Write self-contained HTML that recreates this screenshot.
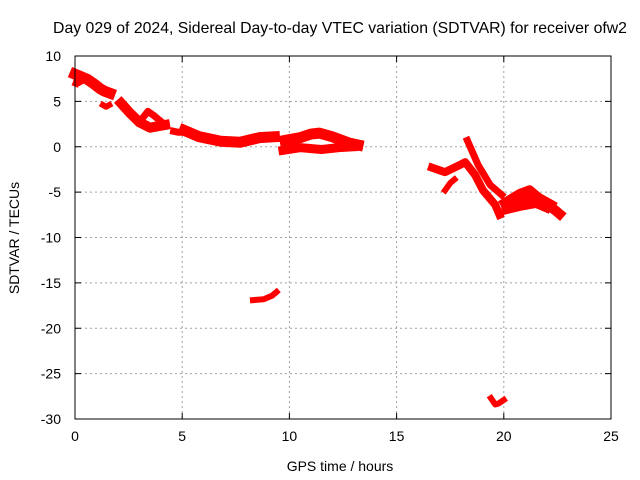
<!DOCTYPE html>
<html><head><meta charset="utf-8"><style>
body{margin:0;background:#fff}
svg{display:block;font-family:"Liberation Sans",sans-serif}
</style></head><body>
<svg id="c" width="640" height="480">
<text x="340" y="33" text-anchor="middle" font-size="15.8">Day 029 of 2024, Sidereal Day-to-day VTEC variation (SDTVAR) for receiver ofw2</text>
<text x="340" y="471" text-anchor="middle" font-size="14">GPS time / hours</text>
<text transform="translate(19,238) rotate(-90)" text-anchor="middle" font-size="14">SDTVAR / TECUs</text>
<g id="grid"></g><g id="data"></g><g id="axes"></g>
</svg>
<script>
const xTicks=[0,5,10,15,20,25];
const yTicks=[10,5,0,-5,-10,-15,-20,-25,-30];
const trackNames=['a','a-dip','b','b-upper','c','d','e-upper','e-lower','f1','f2','f3','f4','g-lower','h-iso','i-iso','g-mid','a-left'];
const trackTimes=[
[0,0.3,0.6,0.9,1.17,1.4,1.63],
[1.3,1.45,1.6],
[2.15,2.57,3.0,3.5,4.2],
[3.2,3.4,3.7,4.0],
[4.6,4.8,5.0],
[5.1,5.8,6.8,7.7,8.6,9.3],
[9.8,10.5,11.0,11.4,12.0,12.8,13.2],
[9.7,10.5,11.5,12.3,13.0],
[16.65,17.26,17.96,18.2,18.66,19.03,19.6,19.8],
[18.3,18.8,19.36,19.9],
[17.26,17.5,17.7],
[20.05,20.75,21.2,21.7,22.4,22.6],
[20.1,20.8,21.5,22.0],
[8.3,8.8,9.2,9.4],
[19.4,19.6,19.75,20.0],
[20.1,20.9,21.6,22.2],
[0.05,0.15,0.25]];
const trackValues=[
[8.0,7.7,7.4,6.9,6.4,6.1,5.9],
[4.6,4.4,4.6],
[4.8,3.7,2.7,2.1,2.4],
[3.3,3.9,3.4,2.8],
[1.7,1.6,1.6],
[1.8,1.1,0.6,0.5,1.0,1.1],
[0.7,1.0,1.4,1.5,1.1,0.4,0.2],
[-0.4,-0.1,-0.3,-0.1,0.0],
[-2.3,-2.8,-2.0,-1.7,-3.1,-4.8,-6.4,-7.5],
[0.7,-2.0,-4.2,-5.3],
[-4.8,-4.0,-3.6],
[-6.2,-5.2,-4.8,-5.8,-7.0,-7.4],
[-7.0,-6.6,-6.3,-6.8],
[-16.9,-16.8,-16.4,-16.0],
[-27.7,-28.4,-28.3,-27.9],
[-6.4,-5.8,-5.6,-6.4],
[7.0,7.6,7.2]];
const trackWidth=[11,6,10,7,7,11,11,9,8,7,6,10,8,6,6,10,7];
const L=75,R=611,T=56,B=419;
const X=t=>L+(t-0)/25*(R-L);
const Y=v=>T+(10-v)/40*(B-T);
const NS='http://www.w3.org/2000/svg';
function mk(tag,attrs,parent){const e=document.createElementNS(NS,tag);for(const k in attrs)e.setAttribute(k,attrs[k]);parent.appendChild(e);return e;}
const grid=document.getElementById('grid'),axes=document.getElementById('axes'),data=document.getElementById('data');
xTicks.forEach(t=>{
 if(t>0&&t<25){const g=mk('line',{x1:X(t),x2:X(t),y1:T,y2:B,stroke:'#a0a0a0','stroke-dasharray':'2,3'},grid);
 
 }
 const tk=mk('path',{d:`M${X(t)},${B}v-6M${X(t)},${T}v6`,stroke:'#000'},axes);
 
 
 const lb=mk('text',{x:X(t),y:B+22,'text-anchor':'middle','font-size':14},axes);lb.textContent=t;
 
 
});
yTicks.forEach(v=>{
 if(v<10&&v>-30){const g=mk('line',{x1:L,x2:R,y1:Y(v),y2:Y(v),stroke:'#a0a0a0','stroke-dasharray':'2,3'},grid);
 
 }
 const tk=mk('path',{d:`M${L},${Y(v)}h6M${R},${Y(v)}h-6`,stroke:'#000'},axes);
 
 
 const lb=mk('text',{x:L-14,y:Y(v)+5,'text-anchor':'end','font-size':14},axes);lb.textContent=v;
 
 
});
const fr=mk('rect',{x:L,y:T,width:R-L,height:B-T,fill:'none',stroke:'#000'},axes);


trackTimes.forEach((ts,i)=>{
 const pts=ts.map((t,j)=>X(t)+','+Y(trackValues[i][j])).join(' ');
 const p=mk('polyline',{points:pts,fill:'none',stroke:'#f00','stroke-width':trackWidth[i],'stroke-linejoin':'round','stroke-linecap':'square'},data);
 
 
});
</script>
</body></html>
